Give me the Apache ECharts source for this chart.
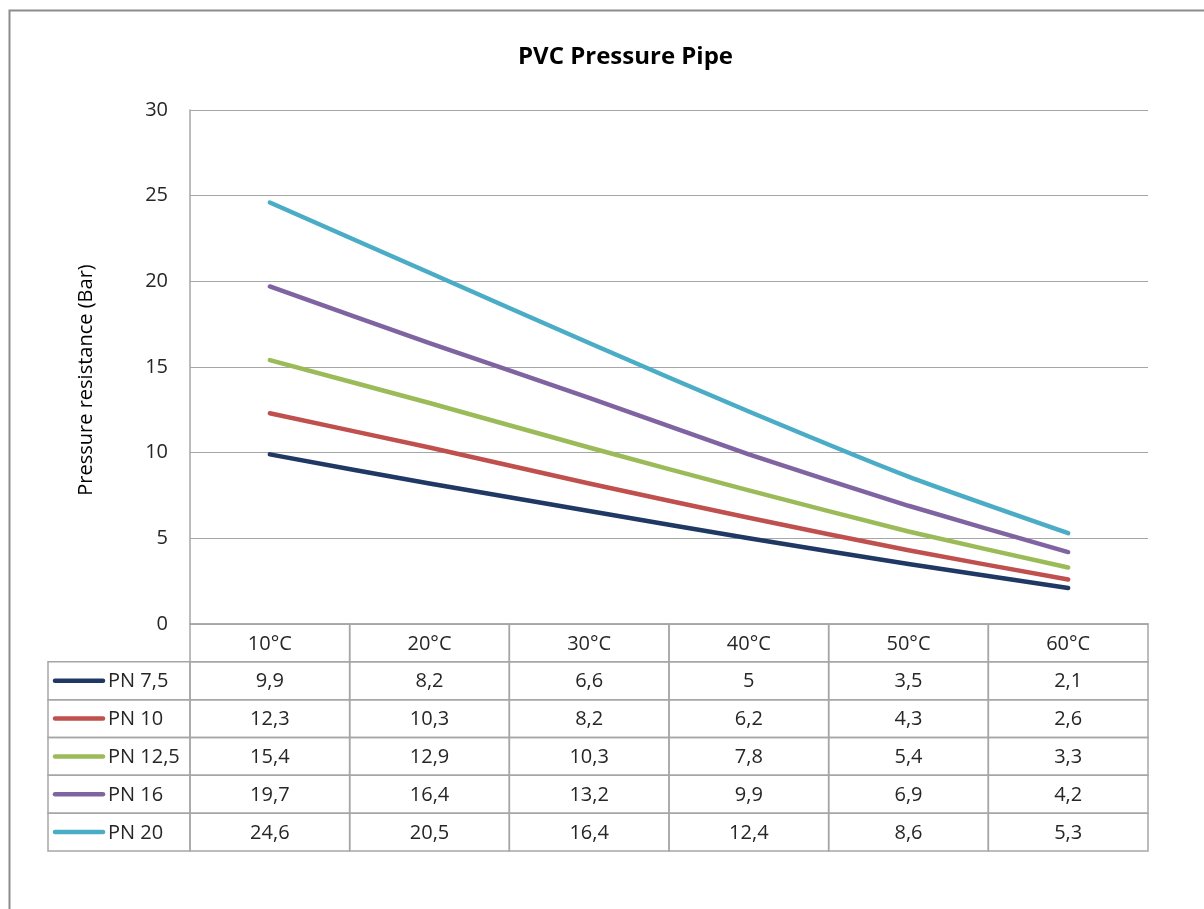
<!DOCTYPE html>
<html><head><meta charset="utf-8">
<script src="https://cdn.jsdelivr.net/npm/echarts@6/dist/echarts.min.js"></script>
<style>html,body{margin:0;padding:0;background:#fff}#c{width:1204px;height:909px}</style>
</head><body><div id="c"></div>
<script>
const categories = ['10°C', '20°C', '30°C', '40°C', '50°C', '60°C'];
const seriesNames = ['PN 7,5', 'PN 10', 'PN 12,5', 'PN 16', 'PN 20'];
const pn75  = [9.9, 8.2, 6.6, 5, 3.5, 2.1];
const pn10  = [12.3, 10.3, 8.2, 6.2, 4.3, 2.6];
const pn125 = [15.4, 12.9, 10.3, 7.8, 5.4, 3.3];
const pn16  = [19.7, 16.4, 13.2, 9.9, 6.9, 4.2];
const pn20  = [24.6, 20.5, 16.4, 12.4, 8.6, 5.3];
const yMin = 0, yMax = 30, yInterval = 5;
const colors = ['#1F3864', '#C0504D', '#9BBB59', '#8064A2', '#4BACC6'];

const allValues = [pn75, pn10, pn125, pn16, pn20];
const FONT = '"Open Sans", "Noto Sans", sans-serif';
const FS = 20;
const GRID_COLOR = '#A6A6A6';
const TEXT_COLOR = '#262626';
const fmt = v => String(v).replace('.', ',');

const tableRows = ['header'].concat(seriesNames);
const cells = [];
categories.forEach((c, i) => cells.push([i, 0, c]));
allValues.forEach((arr, r) => arr.forEach((v, i) => cells.push([i, r + 1, fmt(v)])));
const legendCells = seriesNames.map((n, r) => [0, r + 1, n, colors[r]]);

const chart = echarts.init(document.getElementById('c'));
chart.setOption({
  animation: false,
  backgroundColor: '#fff',
  title: {
    text: 'PVC Pressure Pipe', left: 513, top: 40,
    textStyle: { fontFamily: FONT, fontSize: 24, fontWeight: 'bold', color: '#000' }
  },
  graphic: [{
    type: 'rect', left: 7, top: 8, z: -1,
    shape: { width: 1400, height: 1100 },
    style: { fill: 'none', stroke: '#8C8C8C', lineWidth: 2 }
  }],
  grid: [
    { left: 190, top: 110, width: 958, height: 514 },
    { left: 190, top: 624, width: 958, height: 227 }
  ],
  xAxis: [
    { type: 'category', gridIndex: 0, data: categories, boundaryGap: true,
      axisLine: { show: true, lineStyle: { color: GRID_COLOR, width: 1.5 } },
      axisTick: { show: false }, axisLabel: { show: false } },
    { type: 'category', gridIndex: 1, data: categories, boundaryGap: true, show: false }
  ],
  yAxis: [
    { type: 'value', gridIndex: 0, min: yMin, max: yMax, interval: yInterval,
      name: 'Pressure resistance (Bar)', nameLocation: 'middle', nameGap: 94, nameRotate: 90,
      nameTextStyle: { fontFamily: FONT, fontSize: FS, color: '#000', padding: [0, 26, 0, 0] },
      axisLine: { show: true, lineStyle: { color: GRID_COLOR, width: 1.5 } },
      axisTick: { show: false },
      axisLabel: { margin: 22, fontFamily: FONT, fontSize: FS, color: TEXT_COLOR },
      splitLine: { show: true, lineStyle: { color: GRID_COLOR, width: 1.2 } } },
    { type: 'category', gridIndex: 1, data: tableRows, inverse: true, show: false }
  ],
  series: seriesNames.map((n, k) => ({
    name: n, type: 'line', xAxisIndex: 0, yAxisIndex: 0,
    data: allValues[k], showSymbol: false, symbol: 'none', smooth: 0.2,
    lineStyle: { color: colors[k], width: 4.5, cap: 'round', join: 'round' },
    itemStyle: { color: colors[k] }
  })).concat([
    {
      type: 'custom', xAxisIndex: 1, yAxisIndex: 1, data: cells,
      renderItem: (params, api) => {
        const d = cells[params.dataIndex];
        const c = api.coord([d[0], d[1]]);
        const s = api.size([1, 1]);
        return { type: 'group', children: [
          { type: 'rect', shape: { x: c[0] - s[0] / 2, y: c[1] - s[1] / 2, width: s[0], height: s[1] },
            style: { fill: 'none', stroke: GRID_COLOR, lineWidth: 1.5 } },
          { type: 'text', style: { text: d[2], x: c[0], y: c[1] + 1, align: 'center', verticalAlign: 'middle',
            font: FS + 'px ' + FONT, fill: TEXT_COLOR } }
        ] };
      }
    },
    {
      type: 'custom', xAxisIndex: 1, yAxisIndex: 1, data: legendCells,
      renderItem: (params, api) => {
        const d = legendCells[params.dataIndex];
        const c = api.coord([d[0], d[1]]);
        const s = api.size([1, 1]);
        const x0 = params.coordSys.x - 142;
        return { type: 'group', children: [
          { type: 'rect', shape: { x: x0, y: c[1] - s[1] / 2, width: 142, height: s[1] },
            style: { fill: 'none', stroke: GRID_COLOR, lineWidth: 1.5 } },
          { type: 'line', shape: { x1: x0 + 7, y1: c[1], x2: x0 + 55, y2: c[1] },
            style: { stroke: d[3], lineWidth: 4.5, lineCap: 'round' } },
          { type: 'text', style: { text: d[2], x: x0 + 60, y: c[1] + 1, align: 'left', verticalAlign: 'middle',
            font: FS + 'px ' + FONT, fill: TEXT_COLOR } }
        ] };
      }
    }
  ])
});
</script>
</body></html>
